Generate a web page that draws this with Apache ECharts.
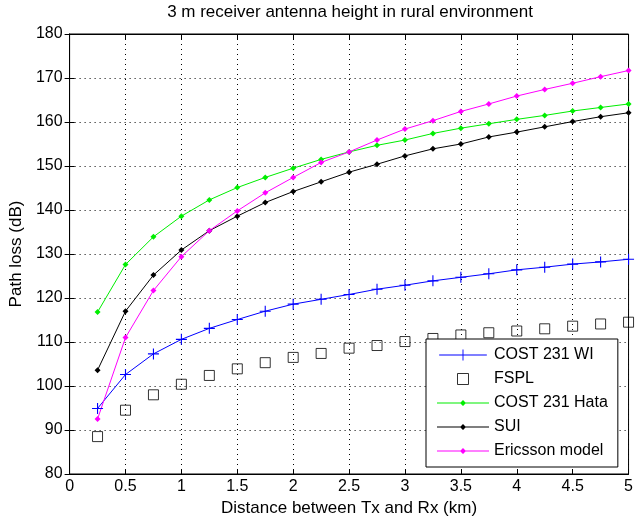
<!DOCTYPE html>
<html>
<head>
<meta charset="utf-8">
<script src="https://cdn.jsdelivr.net/npm/echarts@6/dist/echarts.min.js"></script>
<style>
  html, body { margin: 0; padding: 0; background: #fff; }
  #main { width: 636px; height: 522px; }
</style>
</head>
<body>
<div id="main"></div>
<script>
// distance (km)
var distance = [0.25, 0.5, 0.75, 1, 1.25, 1.5, 1.75, 2, 2.25, 2.5, 2.75, 3, 3.25, 3.5, 3.75, 4, 4.25, 4.5, 4.75, 5];
// path loss (dB) for each model
var cost231Wi = [94.9, 102.6, 107.3, 110.6, 113.1, 115.1, 117.0, 118.6, 119.7, 120.8, 122.0, 122.9, 123.9, 124.7, 125.5, 126.4, 127.0, 127.7, 128.2, 128.8];
var fspl = [88.5, 94.5, 98.0, 100.4, 102.4, 103.9, 105.3, 106.5, 107.4, 108.6, 109.2, 110.1, 110.8, 111.6, 112.1, 112.5, 113.0, 113.6, 114.1, 114.5];
var cost231Hata = [116.8, 127.6, 133.9, 138.6, 142.3, 145.1, 147.4, 149.5, 151.5, 153.2, 154.7, 155.9, 157.4, 158.6, 159.6, 160.6, 161.5, 162.5, 163.3, 164.1];
var sui = [103.6, 117.0, 125.2, 130.9, 135.3, 138.6, 141.7, 144.2, 146.4, 148.6, 150.4, 152.3, 153.9, 155.0, 156.6, 157.7, 158.9, 160.1, 161.2, 162.1];
var ericsson = [92.5, 111.0, 121.7, 129.4, 135.3, 139.8, 143.9, 147.4, 150.8, 153.2, 155.9, 158.4, 160.3, 162.4, 164.1, 165.9, 167.4, 168.8, 170.3, 171.7];

var FONT = 'Liberation Sans, Arial, sans-serif';

function pairs(ys) {
  return distance.map(function (x, i) { return [x, ys[i]]; });
}

// legend icons: line + marker
var plusPath = 'path://M0,5.5H52V6.5H0Z M25.5,0H26.5V12H25.5Z';
var dotPath = 'path://M0,2.5H52V3.5H0Z M26,0L29,3L26,6L23,3Z';
var squarePath = 'path://M0,0H10V10H0Z';

var chart = echarts.init(document.getElementById('main'));

var gridLine = { show: true, lineStyle: { color: '#000', width: 1, type: [1, 4] } };
var tickIn = { show: true, inside: true, length: 5, lineStyle: { color: '#000' } };

chart.setOption({
  backgroundColor: '#fff',
  animation: false,
  title: {
    text: '3 m receiver antenna height in rural environment',
    left: 350,
    textAlign: 'center',
    top: 4,
    padding: 0,
    textStyle: { fontFamily: FONT, fontSize: 17, fontWeight: 'normal', color: '#000' }
  },
  grid: {
    left: 69, right: 4, top: 34, bottom: 48,
    show: true, borderColor: '#000', borderWidth: 1, backgroundColor: '#fff'
  },
  legend: {
    orient: 'vertical',
    left: 426,
    top: 339,
    padding: [8, 10, 8, 11],
    itemWidth: 52,
    itemHeight: 11,
    itemGap: 8,
    symbolKeepAspect: true,
    backgroundColor: '#fff',
    borderColor: '#000',
    borderWidth: 1,
    borderRadius: 0,
    selectedMode: false,
    textStyle: { fontFamily: FONT, fontSize: 16, color: '#000', lineHeight: 16 },
    data: [
      { name: 'COST 231 WI', icon: plusPath },
      { name: 'FSPL', icon: squarePath, itemStyle: { color: 'rgba(0,0,0,0)', borderColor: '#000', borderWidth: 1 } },
      { name: 'COST 231 Hata', icon: dotPath },
      { name: 'SUI', icon: dotPath },
      { name: 'Ericsson model', icon: dotPath }
    ]
  },
  xAxis: [{
    type: 'value',
    min: 0, max: 5, interval: 0.5,
    name: 'Distance between Tx and Rx (km)',
    nameLocation: 'middle',
    nameGap: 26,
    nameTextStyle: { fontFamily: FONT, fontSize: 17, color: '#000' },
    axisLine: { show: true, lineStyle: { color: '#000' } },
    axisTick: tickIn,
    axisLabel: { fontFamily: FONT, fontSize: 16, color: '#000', margin: 5 },
    splitLine: gridLine
  }, {
    type: 'value',
    position: 'top',
    min: 0, max: 5, interval: 0.5,
    axisLine: { show: true, lineStyle: { color: '#000' } },
    axisTick: tickIn,
    axisLabel: { show: false },
    splitLine: { show: false }
  }],
  yAxis: [{
    type: 'value',
    min: 80, max: 180, interval: 10,
    name: 'Path loss (dB)',
    nameLocation: 'middle',
    nameGap: 44,
    nameTextStyle: { fontFamily: FONT, fontSize: 17, color: '#000' },
    axisLine: { show: true, lineStyle: { color: '#000' } },
    axisTick: tickIn,
    axisLabel: { fontFamily: FONT, fontSize: 16, color: '#000', margin: 7 },
    splitLine: gridLine
  }, {
    type: 'value',
    position: 'right',
    min: 80, max: 180, interval: 10,
    axisLine: { show: true, lineStyle: { color: '#000' } },
    axisTick: tickIn,
    axisLabel: { show: false },
    splitLine: { show: false }
  }],
  series: [{
    name: 'COST 231 WI',
    type: 'line',
    data: pairs(cost231Wi),
    symbol: 'path://M4.5,0H5.5V4.5H10V5.5H5.5V10H4.5V5.5H0V4.5H4.5Z',
    symbolSize: 11,
    showAllSymbol: true,
    color: '#0000ff',
    lineStyle: { width: 1, color: '#0000ff' },
    itemStyle: { color: '#0000ff' }
  }, {
    name: 'FSPL',
    type: 'scatter',
    data: pairs(fspl),
    symbol: 'rect',
    symbolSize: 10,
    color: '#000',
    itemStyle: { color: 'rgba(0,0,0,0)', borderColor: '#000', borderWidth: 1 }
  }, {
    name: 'COST 231 Hata',
    type: 'line',
    data: pairs(cost231Hata),
    symbol: 'diamond',
    symbolSize: 6,
    showAllSymbol: true,
    color: '#00ee00',
    lineStyle: { width: 1, color: '#00ee00' },
    itemStyle: { color: '#00ee00' }
  }, {
    name: 'SUI',
    type: 'line',
    data: pairs(sui),
    symbol: 'diamond',
    symbolSize: 6,
    showAllSymbol: true,
    color: '#000',
    lineStyle: { width: 1, color: '#000' },
    itemStyle: { color: '#000' }
  }, {
    name: 'Ericsson model',
    type: 'line',
    data: pairs(ericsson),
    symbol: 'diamond',
    symbolSize: 6,
    showAllSymbol: true,
    color: '#ff00ff',
    lineStyle: { width: 1, color: '#ff00ff' },
    itemStyle: { color: '#ff00ff' }
  }]
});
</script>
</body>
</html>
